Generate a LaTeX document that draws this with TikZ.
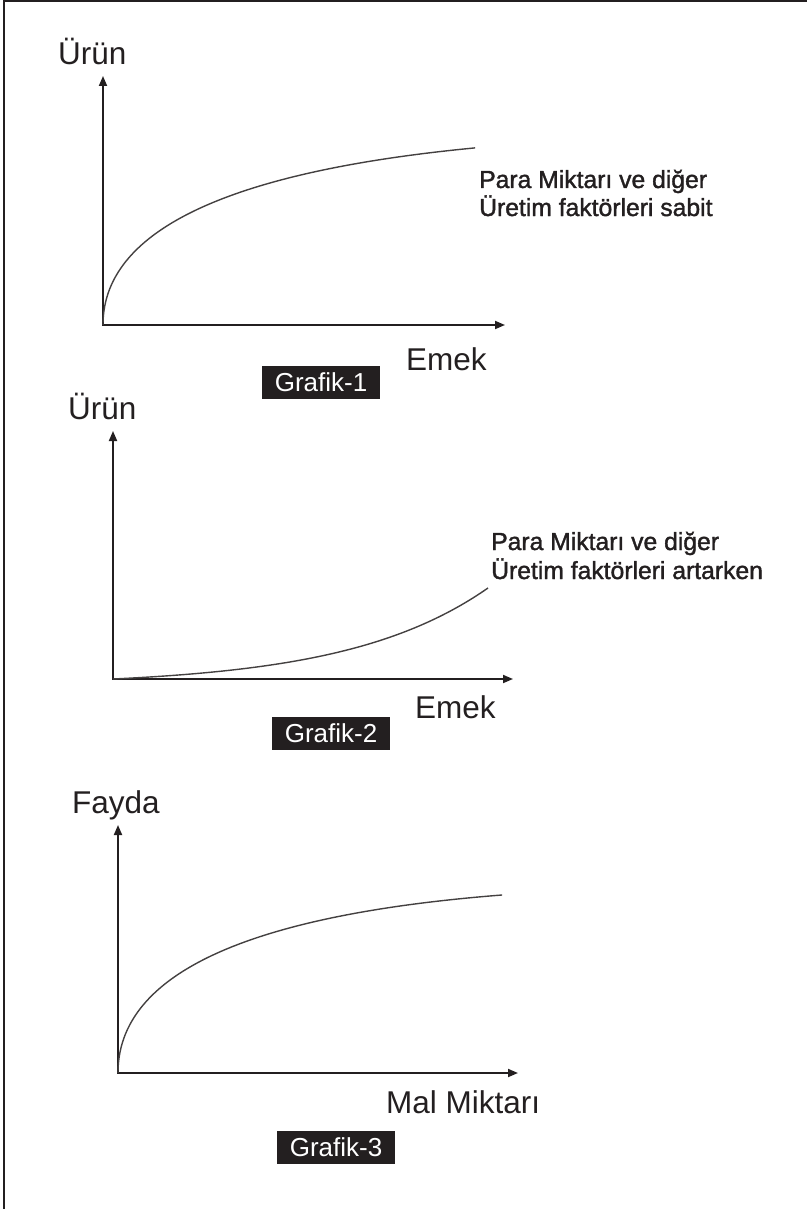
\documentclass[tikz,border=0pt]{standalone}
\usepackage{fontspec}
\setmainfont{Liberation Sans}
\newfontfamily\parafont[FakeBold=1.5]{Liberation Sans}
\usetikzlibrary{arrows.meta}
\definecolor{ink}{HTML}{231F20}
\begin{document}
\begin{tikzpicture}[x=1pt,y=-1pt,
  axis/.style={draw=ink, line width=1.8pt, line join=miter,
    {Triangle[length=10pt,width=8pt]}-{Triangle[length=10pt,width=8pt]}},
  curve/.style={draw=ink!85, line width=1.4pt},
  axlabel/.style={anchor=base west, inner sep=0pt, font=\fontsize{31.5}{36}\selectfont, text=ink},
  note/.style={anchor=base west, inner sep=0pt, font=\parafont\fontsize{24.7}{28.5}\selectfont, text=ink},
  tag/.style={fill=ink, text=white, inner sep=0pt, minimum width=118pt, minimum height=33pt,
    font=\fontsize{26}{30}\selectfont}]
\useasboundingbox (0,0) rectangle (807,1209);
% frame (top and left edges only)
\coordinate (fbl) at (4,1209);
\coordinate (ftl) at (4,0.8);
\coordinate (ftr) at (807,0.8);
\draw[ink, line width=1.6pt] (fbl) -- (ftl) -- (ftr);

% ---------- Grafik-1 ----------
\coordinate (o1) at (103,325);
\coordinate (y1) at (103,76);
\coordinate (x1) at (505,325);
\draw[axis] (y1) -- (o1) -- (x1);
\draw[curve] plot[domain=0:19.29, samples=100] ({103+\x*\x},{325-14.66*\x+0.284*\x*\x});
\node[axlabel] (u1) at (58,65) {Ürün};
\node[axlabel] (e1) at (406,370) {Emek};
\node[note] (p1a) at (479,188) {Para Miktarı ve diğer};
\node[note] (p1b) at (479,216) {Üretim faktörleri sabit};
\node[tag] (g1) at (321,382.5) {Grafik-1};

% ---------- Grafik-2 ----------
\coordinate (o2) at (113,679);
\coordinate (y2) at (113,431);
\coordinate (x2) at (513,679);
\draw[axis] (y2) -- (o2) -- (x2);
\draw[curve] plot[domain=0:375, samples=100] ({113+\x},{679-6.71*(exp(\x/140)-1)});
\node[axlabel] (u2) at (68,419) {Ürün};
\node[axlabel] (e2) at (415,718) {Emek};
\node[note] (p2a) at (491,550) {Para Miktarı ve diğer};
\node[note] (p2b) at (491,579) {Üretim faktörleri artarken};
\node[tag] (g2) at (331,733.5) {Grafik-2};

% ---------- Grafik-3 ----------
\coordinate (o3) at (118,1073);
\coordinate (y3) at (118,825);
\coordinate (x3) at (518,1073);
\draw[axis] (y3) -- (o3) -- (x3);
\draw[curve] plot[domain=0:19.6, samples=100] ({118+\x*\x},{1073-15.1*\x+0.307*\x*\x});
\node[axlabel] (f3) at (72,813) {Fayda};
\node[axlabel] (m3) at (386,1113) {Mal Miktarı};
\node[tag] (g3) at (336,1147.5) {Grafik-3};
\end{tikzpicture}
\end{document}
